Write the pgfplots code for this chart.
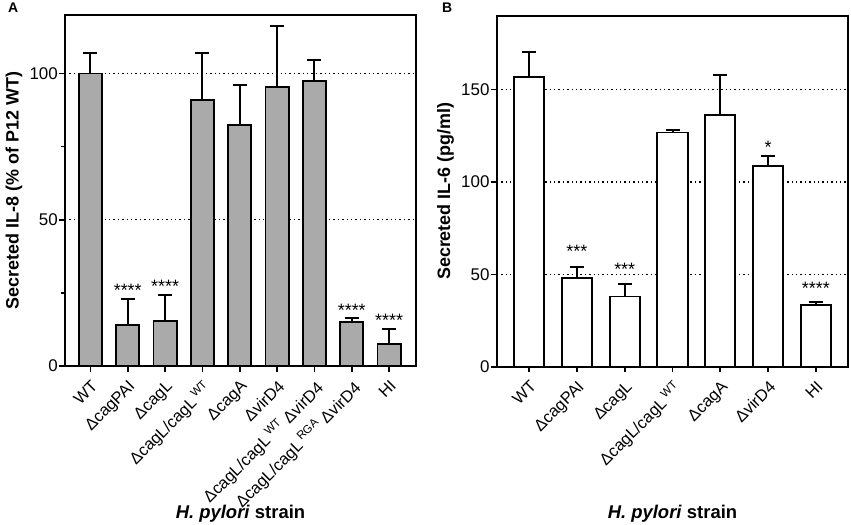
\documentclass[border=0pt]{standalone}
\usepackage{fontspec}
\setmainfont{Liberation Sans}
\usepackage{pgfplots}
\pgfplotsset{compat=1.18}
\usepackage{pgfplotstable}

\pgfplotstableread{
x y e
0 100.0 7.1
1 14.0 8.9
2 15.5 8.9
3 90.9 16.2
4 82.5 13.6
5 95.4 20.8
6 97.3 7.2
7 15.1 1.2
8 7.4 5.4
}\dataA

\pgfplotstableread{
x y e
0 156.8 13.5
1 48.1 6.0
2 38.0 7.0
3 126.8 1.1
4 136.4 21.3
5 108.6 5.3
6 33.5 1.6
}\dataB

\pgfplotsset{
  panel/.style={
    scale only axis,
    height=351bp,
    axis line style={line width=1.7bp},
    tick align=outside,
    xtick pos=bottom, ytick pos=left,
    major tick length=5.5bp, minor tick length=3.5bp,
    every tick/.style={black, line width=1.6bp},
    ymajorgrids,
    major grid style={black, line width=1.4bp, dash pattern=on 1.4bp off 3bp},
    ymin=0,
    /pgf/number format/assume math mode=true,
    yticklabel style={font=\fontsize{17}{19}\selectfont, inner sep=1.5bp},
    xticklabel shift=6bp,
    xticklabel style={rotate=45, anchor=north east, font=\fontsize{16.5}{19}\selectfont, inner sep=1bp},
    ylabel style={at={(axis description cs:-0.1453,0.5)}, anchor=center, font=\fontsize{18}{20}\selectfont\bfseries},
    xlabel style={at={(axis description cs:0.5,0)}, anchor=base, yshift=-152bp, font=\fontsize{18.5}{20}\selectfont\bfseries},
  },
  bars/.style={
    ybar, bar shift=0pt, draw=black, line width=1.9bp,
    error bars/y dir=plus, error bars/y explicit,
    error bars/error bar style={black, line width=2bp},
    error bars/error mark options={black, line width=2bp, mark size=7bp, rotate=90},
  },
  stars/.style={
    draw=none, mark=none, nodes near coords, point meta=explicit symbolic,
    nodes near coords style={anchor=center, inner sep=0pt, font=\fontsize{18}{18}\selectfont},
  },
}

\begin{document}
\begin{tikzpicture}
\useasboundingbox (0,0) rectangle (851bp,525bp);
\node[anchor=base west, inner sep=0pt, font=\fontsize{14}{14}\selectfont\bfseries] at (8bp,512bp) {A};
\node[anchor=base west, inner sep=0pt, font=\fontsize{14}{14}\selectfont\bfseries] at (442bp,512bp) {B};

\begin{axis}[panel,
  at={(65bp,159bp)}, anchor=south west,
  width=351bp,
  xmin=-0.68, xmax=8.72,
  ymax=120,
  ytick={0,50,100}, minor ytick={25,75},
  xtick={0,1,2,3,4,5,6,7,8},
  xticklabels={WT, ΔcagPAI, ΔcagL, ΔcagL/cagL\,\textsuperscript{WT}, ΔcagA, ΔvirD4,
    ΔcagL/cagL\,\textsuperscript{WT} ΔvirD4, ΔcagL/cagL\,\textsuperscript{RGA} ΔvirD4, HI},
  ylabel={Secreted IL-8 (\% of P12 WT)},
  xlabel={\textit{H. pylori} strain},
]
\addplot[bars, bar width=0.62, fill={rgb,255:red,170;green,170;blue,170}] table[x=x, y=y, y error=e] {\dataA};
\addplot[stars] coordinates {(1,25.7) [****] (2,27.1) [****] (7,19.2) [****] (8,15.5) [****]};
\end{axis}

\begin{axis}[panel,
  at={(496.7bp,158.3bp)}, anchor=south west,
  width=351.6bp,
  xmin=-0.68, xmax=6.68,
  ymax=190,
  ytick={0,50,100,150},
  xtick={0,1,2,3,4,5,6},
  xticklabels={WT, ΔcagPAI, ΔcagL, ΔcagL/cagL\,\textsuperscript{WT}, ΔcagA, ΔvirD4, HI},
  ylabel={Secreted IL-6 (pg/ml)},
  xlabel={\textit{H. pylori} strain},
]
\addplot[bars, bar width=0.635, fill=white] table[x=x, y=y, y error=e] {\dataB};
\addplot[stars] coordinates {(1,62.5) [***] (2,52.6) [***] (5,118.7) [*] (6,42.5) [****]};
\end{axis}
\end{tikzpicture}
\end{document}
